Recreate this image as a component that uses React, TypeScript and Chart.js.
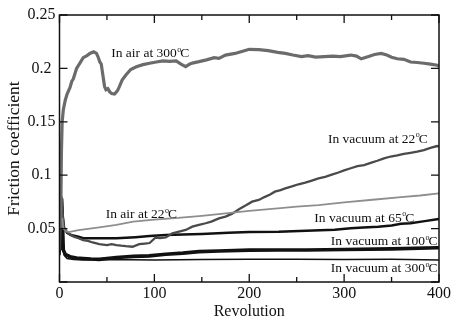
import { useEffect, useRef } from 'react';
import { Chart, registerables } from 'chart.js';

Chart.register(...registerables);

// ---- data (revolution, friction coefficient) ----
const air300Rev = [1.2, 2, 2.8, 4, 6, 8, 11, 13, 14.5, 18, 21.5, 25, 29, 32, 36, 39, 41, 42.5, 44, 45.5, 47.5, 49, 51, 53, 55, 58, 61, 63, 66, 70, 75, 81, 88, 95, 102, 109, 116, 123, 128, 133, 137, 140, 147, 155, 163, 168, 175, 185, 193, 200, 210, 220, 230, 238, 246, 255, 262, 270, 279, 288, 296, 307, 313, 318, 325, 332, 339, 345, 350, 356, 363, 370, 377, 384, 391, 398, 400];
const air300Mu = [0.05, 0.12, 0.15, 0.161, 0.17, 0.176, 0.182, 0.188, 0.19, 0.2, 0.205, 0.21, 0.212, 0.214, 0.2155, 0.214, 0.21, 0.206, 0.204, 0.195, 0.183, 0.18, 0.181, 0.178, 0.1765, 0.176, 0.179, 0.1827, 0.189, 0.1938, 0.199, 0.2016, 0.2035, 0.2048, 0.206, 0.207, 0.2065, 0.207, 0.204, 0.2016, 0.204, 0.205, 0.2063, 0.208, 0.21, 0.2094, 0.2125, 0.214, 0.216, 0.2179, 0.2175, 0.2167, 0.215, 0.214, 0.2125, 0.211, 0.212, 0.2105, 0.211, 0.2115, 0.211, 0.2125, 0.2115, 0.209, 0.211, 0.213, 0.214, 0.2125, 0.2105, 0.209, 0.2085, 0.206, 0.2055, 0.2048, 0.204, 0.203, 0.202];

const vac22Rev = [0.5, 1.5, 2.2, 3, 4, 5, 7.5, 10, 15, 20, 25, 30, 35, 42, 50, 55, 60, 65, 70, 77, 84, 90, 95, 101, 106, 112, 119, 125, 133, 140, 147, 154, 160, 168, 175, 182, 190, 197, 203, 210, 216, 222, 227, 233, 238, 245, 252, 259, 266, 273, 280, 287, 294, 300, 307, 314, 321, 328, 335, 342, 349, 356, 363, 370, 377, 384, 391, 398, 400];
const vac22Mu = [0.03, 0.07, 0.08, 0.07, 0.055, 0.05, 0.0475, 0.045, 0.0425, 0.041, 0.0393, 0.0385, 0.037, 0.0355, 0.0345, 0.0355, 0.0346, 0.034, 0.0335, 0.033, 0.0355, 0.036, 0.0365, 0.0415, 0.041, 0.0418, 0.0456, 0.047, 0.0487, 0.0518, 0.0534, 0.055, 0.0565, 0.0596, 0.0612, 0.064, 0.0685, 0.072, 0.0752, 0.0768, 0.0795, 0.082, 0.0846, 0.086, 0.0877, 0.0895, 0.0915, 0.093, 0.095, 0.097, 0.0985, 0.1005, 0.1025, 0.1045, 0.1065, 0.1085, 0.1095, 0.1115, 0.1135, 0.1158, 0.1175, 0.1185, 0.12, 0.121, 0.122, 0.1235, 0.1255, 0.1273, 0.127];

const air22Rev = [3, 4, 7.5, 11, 20, 40, 60, 77.6, 100, 125, 150, 175, 200, 230, 250, 273, 300, 330, 360, 380, 400];
const air22Mu = [0.06, 0.05, 0.0471, 0.047, 0.0485, 0.051, 0.0535, 0.0565, 0.0585, 0.06, 0.062, 0.0643, 0.0665, 0.069, 0.0705, 0.072, 0.0745, 0.077, 0.0795, 0.081, 0.083];

const vac65Rev = [0.5, 2, 3.5, 5, 8, 12, 20, 25, 35, 42, 60, 80, 95, 112, 130, 150, 178, 200, 231, 260, 290, 307, 320, 336, 350, 360, 370, 385, 398, 400];
const vac65Mu = [0.03, 0.075, 0.06, 0.05, 0.046, 0.044, 0.0425, 0.041, 0.041, 0.0409, 0.041, 0.042, 0.043, 0.044, 0.0445, 0.045, 0.0462, 0.0468, 0.0471, 0.048, 0.049, 0.0503, 0.051, 0.0518, 0.053, 0.0545, 0.055, 0.057, 0.0587, 0.059];

const vac100Rev = [0.5, 1.5, 2.2, 3, 4, 6, 11, 18, 25, 33, 42, 50, 60, 78, 94.5, 112, 130, 147, 168, 200, 231, 260, 300, 350, 398, 400];
const vac100Mu = [0.03, 0.06, 0.078, 0.06, 0.03, 0.026, 0.0237, 0.0225, 0.022, 0.0215, 0.0212, 0.022, 0.023, 0.024, 0.0245, 0.026, 0.027, 0.0284, 0.029, 0.0298, 0.03, 0.03, 0.0305, 0.031, 0.0321, 0.032];

const vac300Rev = [0.5, 2, 3, 5, 8, 15, 25, 50, 100, 150, 200, 250, 300, 350, 400];
const vac300Mu = [0.025, 0.05, 0.035, 0.025, 0.022, 0.021, 0.0205, 0.021, 0.0206, 0.021, 0.0212, 0.0213, 0.021, 0.0212, 0.0206];

// ---- annotation text ----
const labelTexts = ['In air at 300', 'In vacuum at 22', 'In air at 22', 'In vacuum at 65', 'In vacuum at 100', 'In vacuum at 300'];
const labelRev = [54.5, 283, 48.7, 268.6, 286, 286];
const labelMu = [0.2104, 0.1304, 0.0596, 0.0565, 0.0346, 0.0091];

const xTitle = 'Revolution';
const yTitle = 'Friction coefficient';

const SERIF = '"Liberation Serif", "Times New Roman", serif';

function pts(xs: number[], ys: number[]) {
  return xs.map((x, i) => ({ x, y: ys[i] }));
}

const framePlugin = {
  id: 'framePlugin',
  afterDatasetsDraw(chart: any) {
    const { ctx, chartArea: a, scales } = chart;
    const x = scales.x;
    const y = scales.y;
    ctx.save();
    // labels
    ctx.fillStyle = '#111';
    ctx.textBaseline = 'alphabetic';
    ctx.textAlign = 'left';
    labelTexts.forEach((t, i) => {
      const px = x.getPixelForValue(labelRev[i]);
      const py = y.getPixelForValue(labelMu[i]);
      ctx.font = `13.5px ${SERIF}`;
      ctx.fillText(t, px, py);
      const w = ctx.measureText(t).width;
      ctx.font = `8px ${SERIF}`;
      ctx.fillText('o', px + w + 0.5, py - 5.5);
      const ow = ctx.measureText('o').width;
      ctx.font = `13.5px ${SERIF}`;
      ctx.fillText('C', px + w + ow - 0.5, py);
    });
    // frame
    ctx.strokeStyle = '#111';
    ctx.lineWidth = 1.5;
    ctx.strokeRect(a.left, a.top, a.right - a.left, a.bottom - a.top);
    // x ticks (inward, top and bottom)
    ctx.lineWidth = 1.3;
    const xt = x.ticks.map((t: any) => t.value);
    const drawX = (v: number, len: number) => {
      const p = x.getPixelForValue(v);
      ctx.beginPath();
      ctx.moveTo(p, a.bottom);
      ctx.lineTo(p, a.bottom - len);
      ctx.moveTo(p, a.top);
      ctx.lineTo(p, a.top + len);
      ctx.stroke();
    };
    xt.forEach((v: number, i: number) => {
      drawX(v, 8);
      if (i < xt.length - 1) drawX((v + xt[i + 1]) / 2, 5);
    });
    const yt = y.ticks.map((t: any) => t.value);
    yt.forEach((v: number) => {
      const p = y.getPixelForValue(v);
      ctx.beginPath();
      ctx.moveTo(a.left, p);
      ctx.lineTo(a.left + 8, p);
      ctx.moveTo(a.right, p);
      ctx.lineTo(a.right - 8, p);
      ctx.stroke();
    });
    ctx.restore();
  },
};

export default function App() {
  const ref = useRef<HTMLCanvasElement>(null);
  useEffect(() => {
    if (!ref.current) return;
    const mk = (data: any, color: string, width: number) => ({
      data,
      borderColor: color,
      backgroundColor: color,
      borderWidth: width,
      pointRadius: 0,
      tension: 0,
      fill: false,
    });
    const chart = new Chart(ref.current, {
      type: 'line',
      data: {
        datasets: [
          mk(pts(air22Rev, air22Mu), '#8e8e8e', 1.8),
          mk(pts(air300Rev, air300Mu), '#6b6b6b', 3.2),
          mk(pts(vac22Rev, vac22Mu), '#4a4a4a', 2.3),
          mk(pts(vac300Rev, vac300Mu), '#111111', 1.5),
          mk(pts(vac65Rev, vac65Mu), '#111111', 2.5),
          mk(pts(vac100Rev, vac100Mu), '#111111', 3.6),
        ],
      },
      options: {
        animation: false,
        responsive: false,
        events: [],
        layout: { padding: { top: 15, right: 11.5, left: 0, bottom: 0 } },
        plugins: { legend: { display: false }, tooltip: { enabled: false } },
        scales: {
          x: {
            type: 'linear',
            min: 0,
            max: 400,
            grid: { display: false, drawTicks: false },
            border: { display: false },
            ticks: { stepSize: 100, padding: 2, color: '#111', font: { family: SERIF, size: 16 }, maxRotation: 0 },
            title: { display: true, text: xTitle, color: '#111', font: { family: SERIF, size: 16 }, padding: { top: 0, bottom: 0 } },
            afterFit: (s: any) => { s.height = 39; },
          },
          y: {
            type: 'linear',
            min: 0,
            max: 0.25,
            grid: { display: false, drawTicks: false },
            border: { display: false },
            ticks: {
              stepSize: 0.05,
              padding: 4,
              crossAlign: 'center',
              color: '#111',
              font: { family: SERIF, size: 16 },
              callback: (v: any) => (Number(v) === 0 ? '' : String(Number(Number(v).toFixed(2)))),
            },
            title: { display: true, text: yTitle, color: '#111', font: { family: SERIF, size: 17.5 }, padding: { top: 4, bottom: 0 } },
            afterFit: (s: any) => { s.width = 59.5; },
          },
        },
      } as any,
      plugins: [framePlugin],
    });
    return () => chart.destroy();
  }, []);
  return (
    <div style={{ position: 'absolute', left: 0, top: 0, width: 453, height: 321, background: '#fff' }}>
      <canvas ref={ref} width={453} height={321} style={{ display: 'block' }} />
    </div>
  );
}
